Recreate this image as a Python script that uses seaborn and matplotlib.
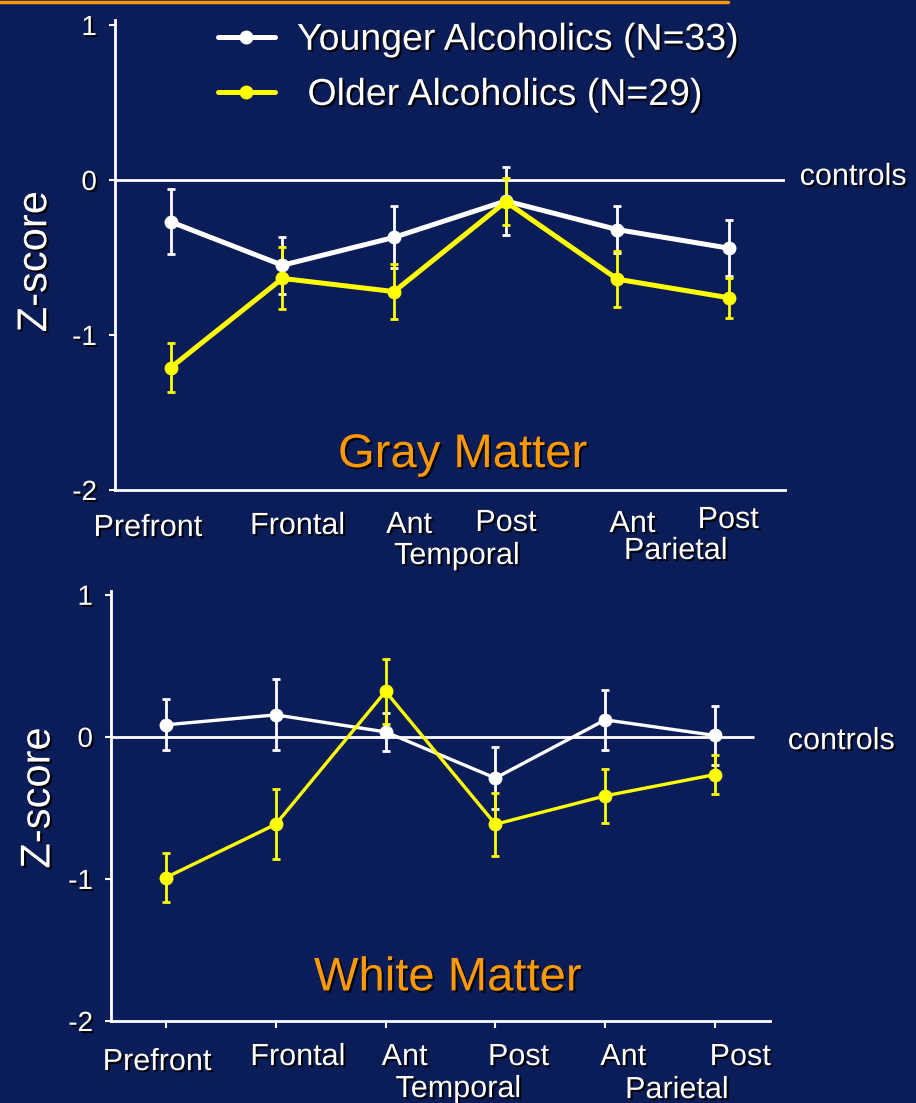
import numpy as np
import pandas as pd
import seaborn as sns
import matplotlib
matplotlib.use("Agg")
import matplotlib.pyplot as plt
from matplotlib.lines import Line2D
from matplotlib.transforms import offset_copy, blended_transform_factory
import matplotlib.patheffects as pe

# ---- data -------------------------------------------------------------
regions = ["Prefront", "Frontal", "Ant", "Post", "Ant", "Post"]
groups = ["Younger Alcoholics (N=33)", " Older Alcoholics (N=29)"]

gray_young = [-0.27, -0.55, -0.37, -0.135, -0.32, -0.44]
gray_young_err = [0.21, 0.185, 0.20, 0.22, 0.15, 0.18]
gray_old = [-1.21, -0.635, -0.72, -0.14, -0.64, -0.76]
gray_old_err = [0.16, 0.20, 0.18, 0.15, 0.18, 0.13]

white_young = [0.085, 0.155, 0.035, -0.29, 0.12, 0.01]
white_young_err = [0.18, 0.25, 0.135, 0.22, 0.21, 0.21]
white_old = [-0.99, -0.615, 0.32, -0.615, -0.415, -0.265]
white_old_err = [0.17, 0.245, 0.23, 0.22, 0.19, 0.14]

y_ticks = [1, 0, -1, -2]

# ---- style ------------------------------------------------------------
BG = "#0a1d58"
ORANGE = "#ff9900"
colors = ["#ffffff", "#ffff00"]

sns.set_theme(style="white")
plt.rcParams["font.family"] = ["Liberation Sans", "DejaVu Sans"]
plt.rcParams["axes.facecolor"] = BG
plt.rcParams["figure.facecolor"] = BG

shadow = [pe.withSimplePatchShadow(offset=(1.5, -1.5), shadow_rgbFace="black", alpha=0.9)]

fig = plt.figure(figsize=(9.16, 11.03), dpi=100)
ax1 = fig.add_axes([0.1255, 0.5558, 0.7314, 0.4257])
ax2 = fig.add_axes([0.1212, 0.0743, 0.7194, 0.3903])

# orange rule along the top edge
fig.add_artist(Line2D([0, 0.795], [0.9985, 0.9985], color=ORANGE, lw=2.5,
                      transform=fig.transFigure))


def draw_panel(ax, young, young_err, old, old_err, lw, ms, ctrl_end):
    x = np.arange(len(regions))
    df = pd.DataFrame({
        "pos": np.concatenate([x, x]),
        "z": young + old,
        "group": [groups[0]] * len(x) + [groups[1]] * len(x),
    })
    ax.hlines(0, -0.5, ctrl_end, color="white", lw=2, zorder=1)
    for vals, errs, c in [(young, young_err, colors[0]), (old, old_err, colors[1])]:
        ax.errorbar(x, vals, yerr=errs, fmt="none", ecolor=c, elinewidth=2,
                    capsize=3, capthick=2, zorder=2)
    sns.lineplot(data=df, x="pos", y="z", hue="group", palette=colors,
                 hue_order=groups, marker="o", markersize=ms, markeredgewidth=0,
                 linewidth=lw, legend=False, ax=ax, zorder=3)
    ax.set_xlim(-0.5, 5.5)
    ax.set_ylim(-2, 1.03)
    ax.set_xlabel("")
    ax.set_ylabel("")
    ax.set_yticks(y_ticks)
    ax.set_yticklabels([str(v) for v in y_ticks])
    ax.set_xticks(x)
    ax.set_xticklabels([])
    for s in ["top", "right"]:
        ax.spines[s].set_visible(False)
    for s in ["left", "bottom"]:
        ax.spines[s].set_color("white")
        ax.spines[s].set_linewidth(2)
    ax.tick_params(axis="y", colors="white", labelsize=20, length=4, width=1.5,
                   pad=9, left=True)
    for t in ax.get_yticklabels():
        t.set_path_effects(shadow)


def region_labels(ax, dx_top, dy_top, group_specs):
    base = blended_transform_factory(ax.transData, ax.transAxes)
    for i, name in enumerate(regions):
        tr = offset_copy(base, fig=fig, x=dx_top[i], y=-dy_top[i], units="dots")
        ax.text(i, 0, name, transform=tr, ha="center", va="center", fontsize=22,
                color="white", path_effects=shadow, clip_on=False)
    for xpos, dy, name in group_specs:
        tr = offset_copy(base, fig=fig, x=0, y=-dy, units="dots")
        ax.text(xpos, 0, name, transform=tr, ha="center", va="center", fontsize=22,
                color="white", path_effects=shadow, clip_on=False)


# ---- gray matter ------------------------------------------------------
draw_panel(ax1, gray_young, gray_young_err, gray_old, gray_old_err, 3.6, 10, 5.5)
ax1.tick_params(axis="x", length=0)
region_labels(ax1, [-23, 15, 15, 0, 15, -1], [38, 36, 35, 33, 34, 30],
              [(2.56, 66, "Temporal"), (4.52, 61, "Parietal")])
ax1.text(1.022, 0.02, "controls", transform=blended_transform_factory(ax1.transAxes, ax1.transData),
         ha="left", va="center", fontsize=22, color="white", path_effects=shadow, clip_on=False)
ax1.text(0.519, -1.775, "Gray Matter", transform=blended_transform_factory(ax1.transAxes, ax1.transData),
         ha="center", va="center", fontsize=34, color=ORANGE, path_effects=shadow)
ax1.text(-0.119, 0.486, "Z-score", transform=ax1.transAxes, rotation=90, ha="center",
         va="center", fontsize=30, color="white", path_effects=shadow)

handles = [Line2D([], [], color=c, lw=3.6, marker="o", ms=10, mew=0) for c in colors]
leg = ax1.legend(handles, groups, loc="upper left", bbox_to_anchor=(0.1537, 0.997),
                 frameon=False, fontsize=27, handlelength=1.52, handletextpad=0.59,
                 labelspacing=0.51, borderpad=0, borderaxespad=0)
for t in leg.get_texts():
    t.set_color("white")
    t.set_path_effects(shadow)

# ---- white matter -----------------------------------------------------
draw_panel(ax2, white_young, white_young_err, white_old, white_old_err, 2.4, 10, 5.35)
ax2.tick_params(axis="x", colors="white", length=5, width=1.5, bottom=True, direction="out")
region_labels(ax2, [-9, 22, 19, 23, 18, 25], [41, 36, 36, 36, 36, 36],
              [(2.66, 68, "Temporal"), (4.65, 69, "Parietal")])
ax2.text(1.027, -0.03, "controls", transform=blended_transform_factory(ax2.transAxes, ax2.transData),
         ha="left", va="center", fontsize=22, color="white", path_effects=shadow, clip_on=False)
ax2.text(0.511, -1.70, "White Matter", transform=blended_transform_factory(ax2.transAxes, ax2.transData),
         ha="center", va="center", fontsize=34, color=ORANGE, path_effects=shadow)
ax2.text(-0.11, 0.518, "Z-score", transform=ax2.transAxes, rotation=90, ha="center",
         va="center", fontsize=30, color="white", path_effects=shadow)

fig.savefig("out.png", dpi=100, facecolor=BG)
